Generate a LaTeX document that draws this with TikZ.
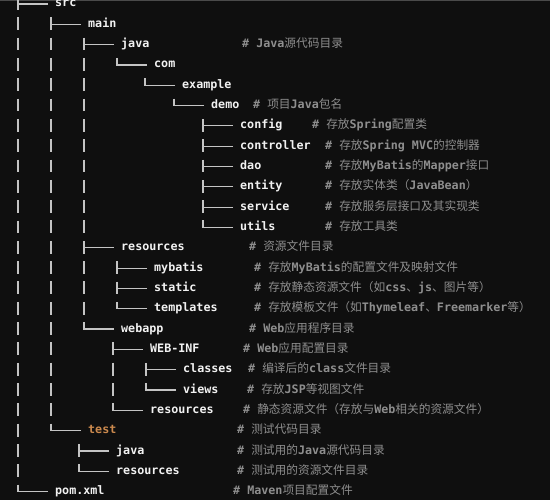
\documentclass[tikz,border=0pt]{standalone}
\usepackage{fontspec}
\setmonofont{DejaVu Sans Mono}
\newfontfamily\cjkfont{Noto Sans CJK SC}
\definecolor{bg}{HTML}{0F0F0F}
\definecolor{fg}{HTML}{F2F2F2}
\definecolor{cm}{HTML}{8E8E8E}
\definecolor{ln}{HTML}{C4C4C4}
\definecolor{og}{HTML}{CC8A4E}
\definecolor{topline}{HTML}{4A4A4A}
\newcommand\zh[1]{{\cjkfont\mdseries #1}}
\newcommand\tbranch[1]{\draw[br] ([xshift=-7pt]#1.west) -- ([xshift=-37.6pt]#1.west);}
\newcommand\vcol[2]{\draw[vbar] ([shift={(-37pt,7pt)}]#1.west) -- ([xshift=-37pt]#2.west);}
\tikzset{
 item/.style={anchor=west, inner sep=0pt, text height=8.5pt, text depth=2.5pt,
   font=\fontsize{11.7}{14}\selectfont\ttfamily\bfseries, text=fg},
 note/.style={item, text=cm},
 br/.style={draw=ln, line width=1.2pt},
 vbar/.style={draw=ln, line width=1.2pt, dash pattern=on 12.8pt off 7.52pt},
}
\begin{document}
\begin{tikzpicture}[x=1pt,y=-1pt]
\fill[bg] (0,0) rectangle (550,500);
\useasboundingbox (0,0) rectangle (550,500);
\fill[topline] (0,0) rectangle (550,1.2);

% tree items
\node[item] (src) at (55,4.0) {src};
\node[item] (main) at (88,24.3) {main};
\node[item] (java) at (121,44.6) {java};
\node[item] (com) at (154,65.0) {com};
\node[item] (example) at (182,85.3) {example};
\node[item] (demo) at (211,105.6) {demo};
\node[item] (config) at (240,125.9) {config};
\node[item] (controller) at (240,146.2) {controller};
\node[item] (dao) at (240,166.6) {dao};
\node[item] (entity) at (240,186.9) {entity};
\node[item] (service) at (240,207.2) {service};
\node[item] (utils) at (240,227.5) {utils};
\node[item] (res) at (121,247.8) {resources};
\node[item] (mybatis) at (154,268.2) {mybatis};
\node[item] (static) at (154,288.5) {static};
\node[item] (templates) at (154,308.8) {templates};
\node[item] (webapp) at (121,329.1) {webapp};
\node[item] (webinf) at (150,349.4) {WEB-INF};
\node[item] (classes) at (183,369.8) {classes};
\node[item] (views) at (183,390.1) {views};
\node[item] (wres) at (150,410.4) {resources};
\node[item, text=og] (test) at (88,430.7) {test};
\node[item] (tjava) at (116,451.0) {java};
\node[item] (tres) at (116,471.4) {resources};
\node[item] (pom) at (55,491.7) {pom.xml};

% comments
\node[note] (c1) at (242,44.6) {\# Java\zh{源代码目录}};
\node[note] (c2) at (253,105.6) {\# \zh{项目}Java\zh{包名}};
\node[note] (c3) at (312,125.9) {\# \zh{存放}Spring\zh{配置类}};
\node[note] (c4) at (325,146.2) {\# \zh{存放}Spring MVC\zh{的控制器}};
\node[note] (c5) at (325,166.6) {\# \zh{存放}MyBatis\zh{的}Mapper\zh{接口}};
\node[note] (c6) at (325,186.9) {\# \zh{存放实体类（}JavaBean\zh{）}};
\node[note] (c7) at (325,207.2) {\# \zh{存放服务层接口及其实现类}};
\node[note] (c8) at (325,227.5) {\# \zh{存放工具类}};
\node[note] (c9) at (249,247.8) {\# \zh{资源文件目录}};
\node[note] (c10) at (254,268.2) {\# \zh{存放}MyBatis\zh{的配置文件及映射文件}};
\node[note] (c11) at (254,288.5) {\# \zh{存放静态资源文件（如}css\zh{、}js\zh{、图片等）}};
\node[note] (c12) at (254,308.8) {\# \zh{存放模板文件（如}Thymeleaf\zh{、}Freemarker\zh{等）}};
\node[note] (c13) at (249,329.1) {\# Web\zh{应用程序目录}};
\node[note] (c14) at (243,349.4) {\# Web\zh{应用配置目录}};
\node[note] (c15) at (248,369.8) {\# \zh{编译后的}class\zh{文件目录}};
\node[note] (c16) at (247,390.1) {\# \zh{存放}JSP\zh{等视图文件}};
\node[note] (c17) at (243,410.4) {\# \zh{静态资源文件（存放与}Web\zh{相关的资源文件）}};
\node[note] (c18) at (237,430.7) {\# \zh{测试代码目录}};
\node[note] (c19) at (237,451.0) {\# \zh{测试用的}Java\zh{源代码目录}};
\node[note] (c20) at (237,471.4) {\# \zh{测试用的资源文件目录}};
\node[note] (c21) at (233,491.7) {\# Maven\zh{项目配置文件}};

% vertical columns
\vcol{src}{pom}
\vcol{main}{test}
\vcol{java}{webapp}
\vcol{com}{com}
\vcol{example}{example}
\vcol{demo}{demo}
\vcol{config}{utils}
\vcol{mybatis}{templates}
\vcol{webinf}{wres}
\vcol{classes}{views}
\vcol{tjava}{tres}

% branches
\foreach \n in {src,main,java,com,example,demo,config,controller,dao,entity,service,utils,res,mybatis,static,templates,webapp,webinf,classes,views,wres,test,tjava,tres,pom}
  {\tbranch{\n}}
\end{tikzpicture}
\end{document}
